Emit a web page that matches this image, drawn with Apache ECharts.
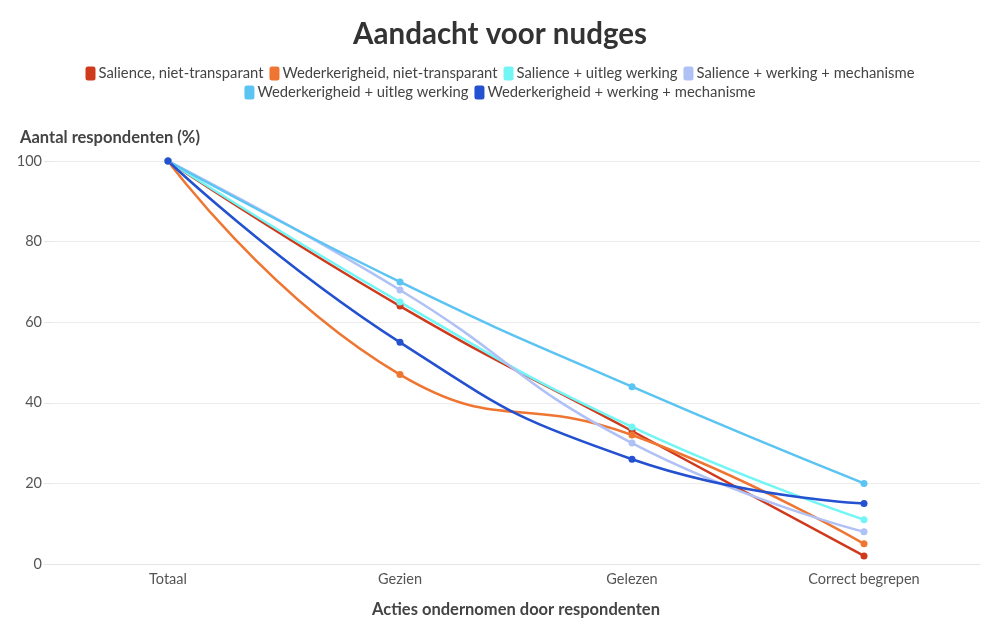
<!DOCTYPE html>
<html>
<head>
<meta charset="utf-8">
<script src="https://cdn.jsdelivr.net/npm/echarts@6/dist/echarts.min.js"></script>
<style>
  html, body { margin: 0; padding: 0; background: #fff; }
  #chart { width: 1000px; height: 636px; }
</style>
</head>
<body>
<div id="chart"></div>
<script>
const categories = ['Totaal', 'Gezien', 'Gelezen', 'Correct begrepen']

const salienceNiet = [100, 64, 33, 2]
const wederNiet = [100, 47, 32, 5]
const salienceUitleg = [100, 65, 34, 11]
const salienceMech = [100, 68, 30, 8]
const wederUitleg = [100, 70, 44, 20]
const wederMech = [100, 55, 26, 15]

const seriesDefs = [
  { name: 'Salience, niet-transparant', data: salienceNiet, color: '#cf3a1d' },
  { name: 'Wederkerigheid, niet-transparant', data: wederNiet, color: '#ef7632' },
  { name: 'Salience + uitleg werking', data: salienceUitleg, color: '#72f5f5' },
  { name: 'Salience + werking + mechanisme', data: salienceMech, color: '#b0c1f5' },
  { name: 'Wederkerigheid + uitleg werking', data: wederUitleg, color: '#5bc4f3' },
  { name: 'Wederkerigheid + werking + mechanisme', data: wederMech, color: '#2351cf' }
]

const font = 'Lato, "Noto Sans", sans-serif'

// two legend rows, each centred on its own
const legendRow = (top, names) => ({
  top: top,
  left: 'center',
  itemWidth: 10,
  itemHeight: 14,
  itemGap: 6,
  icon: 'roundRect',
  textStyle: { fontSize: 14.8, color: '#444', padding: [0, 0, 0, -2] },
  data: names
})

const chart = echarts.init(document.getElementById('chart'))
chart.setOption({
  animation: false,
  textStyle: { fontFamily: font },
  title: [
    {
      text: 'Aandacht voor nudges',
      left: 'center',
      top: 14,
      textStyle: { fontSize: 29.5, fontWeight: 'bold', color: '#333', fontFamily: font }
    },
    {
      text: 'Aantal respondenten (%)',
      left: 15,
      top: 124,
      textStyle: { fontSize: 16.5, fontWeight: 'bold', color: '#444', fontFamily: font }
    }
  ],
  legend: [
    legendRow(61, seriesDefs.slice(0, 4).map(s => s.name)),
    legendRow(80, seriesDefs.slice(4).map(s => s.name))
  ],
  grid: { left: 52, right: 20, top: 161, bottom: 72 },
  xAxis: {
    type: 'category',
    data: categories,
    boundaryGap: true,
    name: 'Acties ondernomen door respondenten',
    nameLocation: 'middle',
    nameGap: 37,
    nameTextStyle: { fontSize: 16.5, fontWeight: 'bold', color: '#444' },
    axisLine: { lineStyle: { color: '#e6e6e6' } },
    axisTick: { alignWithLabel: true, length: 6, lineStyle: { color: '#e6e6e6' } },
    axisLabel: { fontSize: 14.5, color: '#555', margin: 8 }
  },
  yAxis: {
    type: 'value',
    min: 0,
    max: 100,
    interval: 20,
    axisLine: { show: false },
    axisTick: { show: true, length: 8, lineStyle: { color: '#e6e6e6' } },
    axisLabel: { fontSize: 14.5, color: '#555', margin: 10 },
    splitLine: { lineStyle: { color: '#ececec' } }
  },
  series: seriesDefs.map(s => ({
    name: s.name,
    type: 'line',
    data: s.data,
    smooth: 0.5,
    symbol: 'circle',
    symbolSize: 7,
    color: s.color,
    lineStyle: { width: 2.5, color: s.color },
    itemStyle: { color: s.color }
  }))
})
</script>
</body>
</html>
